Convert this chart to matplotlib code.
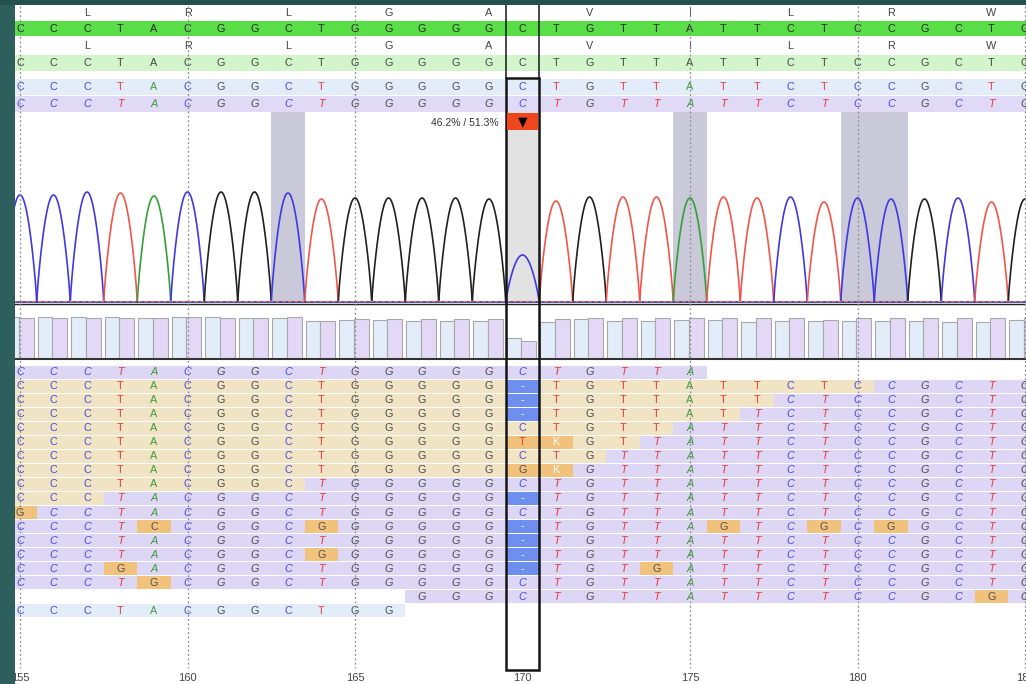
#!/usr/bin/env python3
"""Sanger trace view: consensus, chromatogram, base quality and read pile-up."""

import numpy as np
import matplotlib
matplotlib.use("Agg")
import matplotlib.pyplot as plt
from matplotlib.patches import Rectangle

OUT = "out.png"
W, H = 1026, 684

FIRST_POS = 155
CONSENSUS = "CCCTACGGCTGGGGGCTGTTATTCTCCGCTG"  # positions 155..185
AA_POS = [157, 160, 163, 166, 169, 172, 175, 178, 181, 184]
AA_CODE = ["L", "R", "L", "G", "A", "V", "I", "L", "R", "W"]

# chromatogram peak heights, one per base (155..185)
PEAK_HEIGHT = [108, 108, 111, 110, 107, 111, 111, 111, 110, 104,
               105, 105, 105, 105, 104, 48, 102, 106, 106, 106,
               105, 106, 105, 106, 101, 105, 104, 104, 105, 101, 104]

# base quality bars, two per base (155..185)
QUAL_LEFT = [41, 41, 41, 41, 40, 41, 41, 40, 40, 37,
             38, 38, 37, 37, 37, 20, 36, 39, 37, 37,
             38, 38, 36, 37, 37, 37, 37, 37, 36, 36, 38]
QUAL_RIGHT = [40, 40, 40, 40, 40, 41, 40, 40, 41, 37,
              39, 39, 39, 39, 39, 17, 39, 40, 40, 40,
              40, 40, 40, 40, 38, 40, 40, 40, 40, 40, 40]

# aligned reads, positions 155..185 (" " = not covered)
READS = [
    "CCCTACGGCTGGGGGCTGTTA          ",
    "CCCTACGGCTGGGGG-TGTTATTCTCCGCTG",
    "CCCTACGGCTGGGGG-TGTTATTCTCCGCTG",
    "CCCTACGGCTGGGGG-TGTTATTCTCCGCTG",
    "CCCTACGGCTGGGGGCTGTTATTCTCCGCTG",
    "CCCTACGGCTGGGGGTKGTTATTCTCCGCTG",
    "CCCTACGGCTGGGGGCTGTTATTCTCCGCTG",
    "CCCTACGGCTGGGGGGKGTTATTCTCCGCTG",
    "CCCTACGGCTGGGGGCTGTTATTCTCCGCTG",
    "CCCTACGGCTGGGGG-TGTTATTCTCCGCTG",
    "GCCTACGGCTGGGGGCTGTTATTCTCCGCTG",
    "CCCTCCGGCGGGGGG-TGTTAGTCGCGGCTG",
    "CCCTACGGCTGGGGG-TGTTATTCTCCGCTG",
    "CCCTACGGCGGGGGG-TGTTATTCTCCGCTG",
    "CCCGACGGCTGGGGG-TGTGATTCTCCGCTG",
    "CCCTGCGGCTGGGGGCTGTTATTCTCCGCTG",
    "            GGGCTGTTATTCTCCGCGG",
    "CCCTACGGCTGG                   ",
]
# last position of the forward (tan) part of each read, None = reverse only
TAN_END = [None, 180, 177, 176, 174, 173, 172, 171, 163, 157,
           None, None, None, None, None, None, None, None]

SHADED_POS = [163, 175, 180, 181]
MIXED_POS = 170
MIX_LABEL = "46.2% / 51.3%"
TICK_POS = [155, 160, 165, 170, 175, 180, 185]

FONT = ["Liberation Sans", "DejaVu Sans"]
BASE_SIZE = 7.8
BASE_COLOR = {"A": "#3d9b3d", "C": "#4b4bdc", "G": "#4a4a4a", "T": "#e53a3a",
              "K": "#ffffff", "-": "#ffffff"}
TRACE_COLOR = {"A": "#35a035", "C": "#4038e0", "G": "#202020", "T": "#f0564a"}
LAVENDER = "#ddd6f5"
TAN = "#f0e4c5"
ORANGE = "#f1c27c"
GAP_BLUE = "#6e8ff0"
LIGHT_BLUE = "#e3edf9"
TEAL = "#2d605d"

STEP = 33.5  # pixels per base
XLIM = (FIRST_POS - 20 / STEP, FIRST_POS + (W - 20) / STEP)


def px_axes(fig, top, bottom, ylim, zorder):
    ax = fig.add_axes([0, 1 - bottom / H, 1, (bottom - top) / H], zorder=zorder)
    ax.set_xlim(XLIM)
    ax.set_ylim(*ylim)
    ax.axis("off")
    return ax


def base_text(ax, pos, y, ch, italic=False, color=None, size=BASE_SIZE):
    ax.text(pos, y, ch, ha="center", va="center", fontsize=size,
            color=color or BASE_COLOR[ch], family=FONT,
            style="italic" if italic else "normal")


def band(ax, top, bottom, color, lo=None, hi=None):
    lo = XLIM[0] if lo is None else lo
    hi = XLIM[1] if hi is None else hi
    ax.add_patch(Rectangle((lo, top), hi - lo, bottom - top, color=color, lw=0))


def main():
    fig = plt.figure(figsize=(W / 100, H / 100), dpi=100)
    fig.patch.set_facecolor("white")

    bg = px_axes(fig, 0, H, (H, 0), 0)
    chrom = px_axes(fig, 112, 303, (0, 191), 1)
    qual = px_axes(fig, 303, 358, (0, 55), 1)
    fg = px_axes(fig, 0, H, (H, 0), 2)

    positions = np.arange(FIRST_POS, FIRST_POS + len(CONSENSUS))

    # header rows: translation + consensus + sample sequences
    band(bg, 21, 36, "#5ade48")
    band(bg, 55, 71, "#d3f5cc")
    band(bg, 79, 95, LIGHT_BLUE)
    band(bg, 96, 112, "#e1daf6")
    for pos, aa in zip(AA_POS, AA_CODE):
        aa_color = "#6a3a6a" if aa == "I" else "#444444"
        base_text(bg, pos, 13, aa, color=aa_color)
        base_text(bg, pos, 46, aa, color=aa_color)
    for pos, ch in zip(positions, CONSENSUS):
        base_text(bg, pos, 28.5, ch, color="#2a2a2a")
        base_text(bg, pos, 63, ch, color="#444444")
        base_text(bg, pos, 87, ch)
        base_text(bg, pos, 104, ch, italic=True)

    # chromatogram background marks
    for pos in SHADED_POS:
        chrom.axvspan(pos - 0.5, pos + 0.5, color="#c9c9da", lw=0)
    chrom.axvspan(MIXED_POS - 0.5, MIXED_POS + 0.5, color="#e2e2e2", lw=0)

    t = np.linspace(0, 1, 60)
    for pos, ch, h in zip(positions, CONSENSUS, PEAK_HEIGHT):
        chrom.plot(pos - 0.5 + t, h * np.sin(np.pi * t) ** 0.8,
                   color=TRACE_COLOR[ch], lw=1.2, solid_capstyle="round")
    chrom.axhline(0.6, color="#4040a0", lw=1.3)
    chrom.axhline(2.2, color="#e07a6a", lw=0.9, ls=(0, (3, 2)))

    # quality bars
    qual.bar(positions - 0.25, QUAL_LEFT, width=0.44, bottom=0,
             color=LIGHT_BLUE, edgecolor="#a8a8a8", lw=0.8)
    qual.bar(positions + 0.19, QUAL_RIGHT, width=0.44, bottom=0,
             color="#e3d9f7", edgecolor="#a8a8a8", lw=0.8)
    bg.axhline(303.5, color="#222222", lw=1.0)
    bg.axhline(358.5, color="#333333", lw=1.5)

    # read pile-up
    y0, pitch, rh = 372, 14.05, 13
    last = len(READS) - 1
    for r, seq in enumerate(READS):
        yc = y0 + r * pitch
        cells = [(FIRST_POS + i, ch) for i, ch in enumerate(seq) if ch != " "]
        lo, hi = cells[0][0] - 0.5, cells[-1][0] + 0.5
        band(bg, yc - rh / 2, yc + rh / 2, LIGHT_BLUE if r == last else LAVENDER, lo, hi)
        tan_end = TAN_END[r]
        if tan_end is not None:
            band(bg, yc - rh / 2, yc + rh / 2, TAN, lo, tan_end + 0.5)
        for pos, ch in cells:
            upright = r == last or (tan_end is not None and pos <= tan_end)
            cons = CONSENSUS[pos - FIRST_POS]
            if ch == "-":
                band(bg, yc - rh / 2, yc + rh / 2, GAP_BLUE, pos - 0.5, pos + 0.5)
                base_text(bg, pos, yc, ch)
            elif ch != cons:
                band(bg, yc - rh / 2, yc + rh / 2, ORANGE, pos - 0.5, pos + 0.5)
                color = "#ffffff" if ch == "K" else ("#505050" if ch in "GC" else BASE_COLOR[ch])
                base_text(bg, pos, yc, ch, color=color)
            else:
                base_text(bg, pos, yc, ch, italic=not upright)

    # guides, selection box and mixed-base flag
    for pos in TICK_POS:
        if pos != MIXED_POS:
            fg.plot([pos, pos], [6, 668], color="#8a8a8a", lw=0.9, ls=(0, (1.5, 2)))
        fg.text(pos, 678, str(pos), ha="center", va="center", fontsize=8,
                color="#444444", family=FONT)
    fg.add_patch(Rectangle((MIXED_POS - 0.5, 78), 1, 592, fill=False,
                           ec="#151515", lw=1.8))
    for edge in (MIXED_POS - 0.5, MIXED_POS + 0.5):
        fg.plot([edge, edge], [5, 78], color="#151515", lw=1.1)
    fg.add_patch(Rectangle((MIXED_POS - 0.45, 113), 0.9, 17, color="#f0461e", lw=0))
    fg.text(MIXED_POS, 121.5, "\u25bc", ha="center", va="center", fontsize=9,
            color="black", family="DejaVu Sans")
    fg.text(MIXED_POS - 0.7, 123, MIX_LABEL, ha="right", va="center", fontsize=7.5,
            color="#333333", family=FONT)

    # window frame
    fig.add_artist(Rectangle((0, 0), 15 / W, 1, transform=fig.transFigure,
                             color=TEAL, lw=0, zorder=10))
    fig.add_artist(Rectangle((0, 1 - 5 / H), 1, 5 / H, transform=fig.transFigure,
                             color="#24504e", lw=0, zorder=10))

    fig.savefig(OUT, dpi=100, facecolor="white")


if __name__ == "__main__":
    main()
